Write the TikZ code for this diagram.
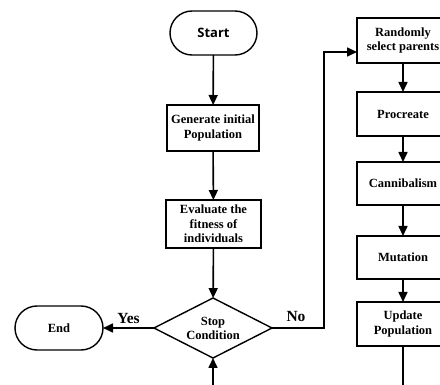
\documentclass[tikz,border=0pt]{standalone}
\usepackage{fontspec}
\setmainfont{Liberation Serif}
\newfontfamily\startfont{Open Sans}
\usetikzlibrary{arrows.meta,shapes.geometric,shapes.misc}
\begin{document}
\begin{tikzpicture}[x=1pt,y=-1pt,
  every node/.style={inner sep=0pt, outer sep=0pt},
  box/.style={draw, line width=1.4pt, rectangle, align=center,
    font=\fontsize{12.5}{14.5}\selectfont\bfseries},
  term/.style={draw, line width=1.4pt, rounded rectangle, minimum width=88pt, minimum height=44pt},
  dec/.style={draw, line width=1.4pt, diamond, shape aspect=1.97, minimum width=118pt, minimum height=60pt,
    align=center, font=\fontsize{12.5}{14}\selectfont\bfseries},
  flow/.style={line width=1.6pt, -{Triangle[width=9pt,length=10pt]}},
  lbl/.style={font=\fontsize{15.5}{15.5}\selectfont\bfseries}]
\useasboundingbox (0,0) rectangle (440,385);
\clip (0,0) rectangle (440,385);
\node[term, minimum width=87pt, font=\fontsize{13}{13}\selectfont\startfont\bfseries] (start) at (213.5,33) {Start};
\node[box, minimum width=92pt, minimum height=46pt] (gen) at (213,128) {Generate initial\\Population};
\node[box, minimum width=95pt, minimum height=48pt] (eval) at (213.5,224) {Evaluate the\\fitness of\\individuals};
\node[dec] (stop) at (213,328) {Stop\\Condition};
\node[term, font=\fontsize{12.5}{14}\selectfont\bfseries] (end) at (59,328) {End};
\node[box, minimum width=92pt, minimum height=45pt] (rand) at (403,40.5) {Randomly\\select parents};
\node[box, minimum width=92pt, minimum height=44pt] (proc) at (403,114) {Procreate};
\node[box, minimum width=92pt, minimum height=43pt] (cann) at (403,183.5) {Cannibalism};
\node[box, minimum width=92pt, minimum height=43pt] (mut) at (403,257.5) {Mutation};
\node[box, minimum width=92pt, minimum height=44pt] (upd) at (403,324) {Update\\Population};
\coordinate (loopdown) at (403,410);
\coordinate (noturn) at (324,52);
\draw[flow] (start) -- (gen);
\draw[flow] (gen) -- (eval);
\draw[flow] (eval) -- (stop);
\draw[flow] (stop.west) -- (end.east) node[lbl, midway, above=4pt] {Yes};
\draw[flow] (stop.east) -| (noturn) -- (noturn -| rand.west);
\node[lbl] (no) at (296,317) {No};
\draw[flow] (rand) -- (proc);
\draw[flow] (proc) -- (cann);
\draw[flow] (cann) -- (mut);
\draw[flow] (mut) -- (upd);
\draw[flow] (upd.south) -- (loopdown) -| (stop.south);
\end{tikzpicture}
\end{document}
